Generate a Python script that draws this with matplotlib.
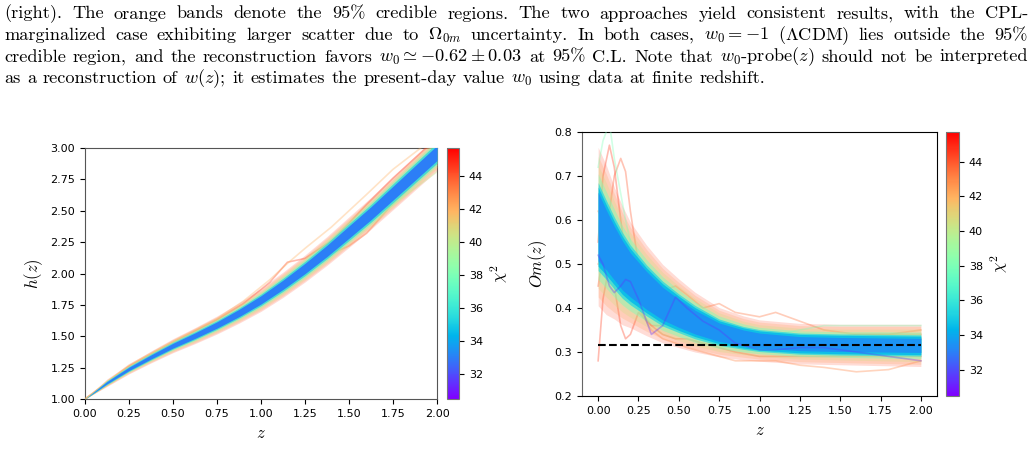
import numpy as np
import matplotlib
matplotlib.use("Agg")
import matplotlib.pyplot as plt
from matplotlib.colors import Normalize
from matplotlib.cm import ScalarMappable

plt.rcParams['mathtext.fontset'] = 'cm'
plt.rcParams['font.size'] = 8

# ---------------- data: h(z) panel ----------------
z_h = [0.0, 0.125, 0.25, 0.375, 0.5, 0.625, 0.75, 0.875, 1.0, 1.125, 1.25, 1.375,
       1.5, 1.625, 1.75, 1.875, 2.0]
h_center = [1.00, 1.13, 1.24, 1.335, 1.425, 1.505, 1.59, 1.685, 1.79, 1.91, 2.04, 2.18,
            2.33, 2.48, 2.64, 2.80, 2.96]
h_band_chi2 = [44.5, 42.5, 40.5, 38.0, 35.5, 33.0]
h_band_halfwidth = [
    [0, 0.030, 0.040, 0.048, 0.056, 0.064, 0.072, 0.081, 0.092, 0.101, 0.108, 0.115, 0.122, 0.127, 0.132, 0.136, 0.140],
    [0, 0.026, 0.035, 0.042, 0.050, 0.057, 0.064, 0.072, 0.082, 0.090, 0.097, 0.104, 0.110, 0.115, 0.120, 0.124, 0.128],
    [0, 0.022, 0.030, 0.037, 0.043, 0.049, 0.055, 0.062, 0.071, 0.078, 0.085, 0.092, 0.098, 0.103, 0.108, 0.112, 0.116],
    [0, 0.018, 0.025, 0.030, 0.035, 0.040, 0.045, 0.051, 0.059, 0.066, 0.072, 0.077, 0.083, 0.088, 0.092, 0.096, 0.099],
    [0, 0.014, 0.019, 0.023, 0.027, 0.031, 0.035, 0.040, 0.046, 0.052, 0.057, 0.062, 0.067, 0.071, 0.075, 0.078, 0.081],
    [0, 0.009, 0.013, 0.016, 0.019, 0.022, 0.025, 0.029, 0.033, 0.037, 0.041, 0.045, 0.049, 0.052, 0.055, 0.058, 0.060],
]
# individual outlying samples (z, h, chi2)
h_out_z = [0.0, 0.25, 0.5, 0.75, 0.9, 1.05, 1.15, 1.25, 1.4, 1.5, 1.6, 1.75, 2.0]
h_out_curves = [
    [1.00, 1.26, 1.45, 1.63, 1.76, 1.93, 2.09, 2.12, 2.26, 2.40, 2.55, 2.76, 3.08],
    [1.00, 1.22, 1.40, 1.56, 1.68, 1.84, 1.96, 2.05, 2.16, 2.22, 2.32, 2.56, 2.88],
    [1.00, 1.23, 1.41, 1.56, 1.69, 1.85, 1.97, 2.06, 2.20, 2.30, 2.40, 2.55, 2.81],
    [1.00, 1.27, 1.46, 1.64, 1.78, 1.95, 2.08, 2.20, 2.37, 2.50, 2.63, 2.83, 3.10],
]
h_out_chi2 = [44.5, 43.5, 40.0, 42.0]

# ---------------- data: Om(z) panel ----------------
z_om = [0.0, 0.05, 0.1, 0.15, 0.2, 0.3, 0.4, 0.5, 0.6, 0.75, 0.9, 1.0, 1.25, 1.5, 1.75, 2.0]
om_center = [0.585, 0.555, 0.525, 0.497, 0.475, 0.440, 0.410, 0.388, 0.368, 0.345,
             0.332, 0.326, 0.319, 0.317, 0.316, 0.315]
om_band_chi2 = [44.5, 42.5, 40.5, 38.0, 35.5, 34.5, 33.5]
om_band_halfwidth = [
    [0.180, 0.170, 0.150, 0.135, 0.120, 0.103, 0.089, 0.078, 0.068, 0.056, 0.050, 0.047, 0.046, 0.046, 0.047, 0.048],
    [0.160, 0.150, 0.135, 0.120, 0.108, 0.093, 0.080, 0.070, 0.061, 0.050, 0.044, 0.042, 0.041, 0.041, 0.042, 0.043],
    [0.140, 0.130, 0.118, 0.106, 0.096, 0.082, 0.071, 0.062, 0.054, 0.044, 0.038, 0.036, 0.035, 0.035, 0.036, 0.037],
    [0.120, 0.110, 0.100, 0.090, 0.082, 0.070, 0.061, 0.053, 0.046, 0.037, 0.032, 0.030, 0.029, 0.029, 0.030, 0.030],
    [0.100, 0.090, 0.082, 0.075, 0.068, 0.058, 0.051, 0.044, 0.038, 0.030, 0.026, 0.025, 0.024, 0.024, 0.024, 0.024],
    [0.090, 0.080, 0.072, 0.066, 0.060, 0.051, 0.045, 0.039, 0.033, 0.026, 0.023, 0.022, 0.021, 0.021, 0.021, 0.021],
    [0.078, 0.068, 0.061, 0.056, 0.050, 0.043, 0.037, 0.032, 0.027, 0.021, 0.018, 0.017, 0.016, 0.016, 0.016, 0.016],
]
om_out_z = [0.0, 0.03, 0.07, 0.1, 0.14, 0.17, 0.2, 0.25, 0.33, 0.4, 0.48, 0.55, 0.65, 0.75,
            0.85, 1.0, 1.1, 1.25, 1.4, 1.6, 1.8, 2.0]
om_out_curves = [
    [0.55, 0.70, 0.77, 0.72, 0.60, 0.52, 0.46, 0.40, 0.36, 0.36, 0.38, 0.37, 0.36, 0.34, 0.33, 0.32, 0.32, 0.32, 0.32, 0.32, 0.33, 0.33],
    [0.45, 0.52, 0.62, 0.70, 0.74, 0.71, 0.62, 0.50, 0.42, 0.40, 0.38, 0.36, 0.35, 0.34, 0.33, 0.33, 0.33, 0.33, 0.33, 0.34, 0.34, 0.34],
    [0.28, 0.42, 0.50, 0.45, 0.36, 0.33, 0.34, 0.39, 0.36, 0.34, 0.33, 0.33, 0.32, 0.31, 0.30, 0.29, 0.29, 0.29, 0.29, 0.29, 0.29, 0.29],
    [0.50, 0.52, 0.55, 0.52, 0.48, 0.46, 0.44, 0.43, 0.42, 0.44, 0.45, 0.43, 0.40, 0.41, 0.39, 0.38, 0.39, 0.37, 0.35, 0.34, 0.34, 0.35],
    [0.62, 0.60, 0.57, 0.54, 0.50, 0.47, 0.44, 0.40, 0.35, 0.33, 0.32, 0.31, 0.30, 0.29, 0.28, 0.28, 0.28, 0.27, 0.265, 0.255, 0.26, 0.28],
    [0.72, 0.78, 0.82, 0.74, 0.66, 0.60, 0.55, 0.50, 0.43, 0.40, 0.37, 0.35, 0.34, 0.33, 0.33, 0.33, 0.34, 0.35, 0.36, 0.36, 0.36, 0.36],
    [0.52, 0.50, 0.45, 0.435, 0.45, 0.465, 0.46, 0.42, 0.34, 0.36, 0.425, 0.40, 0.37, 0.35, 0.32, 0.305, 0.305, 0.31, 0.31, 0.30, 0.29, 0.28],
]
om_out_chi2 = [44.5, 44.0, 44.5, 43.5, 43.0, 38.0, 31.5]
om_lcdm = 0.315

chi2_min, chi2_max = 30.5, 45.7
cbar_ticks = [32, 34, 36, 38, 40, 42, 44]

paragraph = [
    r"(right).  The orange bands denote the 95% credible regions.  The two approaches yield consistent results, with the CPL-",
    r"marginalized case exhibiting larger scatter due to $\Omega_{0m}$ uncertainty. In both cases, $w_0={-1}$ ($\Lambda$CDM) lies outside the 95%",
    r"credible region, and the reconstruction favors $w_0\simeq{-0.62}\pm0.03$ at 95% C.L. Note that $w_0$-probe$(z)$ should not be interpreted",
    r"as a reconstruction of $w(z)$; it estimates the present-day value $w_0$ using data at finite redshift.",
]

# ---------------- figure ----------------
W, H = 1035, 468
fig = plt.figure(figsize=(W / 100, H / 100), dpi=100)
cmap = plt.get_cmap('rainbow')
norm = Normalize(chi2_min, chi2_max)


def draw_panel(ax, z, center, band_chi2, band_hw, out_z, out_curves, out_chi2, alphas):
    c = np.array(center)
    for k, (chi, hw) in enumerate(zip(band_chi2, band_hw)):
        hw = np.array(hw)
        ax.fill_between(z, c - hw, c + hw, color=cmap(norm(chi)), alpha=alphas[k],
                        lw=0, zorder=100 - chi)
    for vals, chi in zip(out_curves, out_chi2):
        ax.plot(out_z, vals, color=cmap(norm(chi)), alpha=0.35, lw=1.2, zorder=100 - chi - 0.5)


def px_rect(x0, y0, x1, y1):
    return [x0 / W, 1 - y1 / H, (x1 - x0) / W, (y1 - y0) / H]


# left panel
ax1 = fig.add_axes(px_rect(85, 148, 437, 399))
draw_panel(ax1, z_h, h_center, h_band_chi2, h_band_halfwidth, h_out_z, h_out_curves,
           h_out_chi2, [0.18, 0.22, 0.3, 0.45, 0.8, 1.0])
ax1.set_xlim(0, 2)
ax1.set_ylim(1, 3)
ax1.set_xticks(np.arange(0, 2.01, 0.25))
ax1.set_yticks(np.arange(1, 3.01, 0.25))
ax1.xaxis.set_major_formatter(matplotlib.ticker.FormatStrFormatter('%.2f'))
ax1.yaxis.set_major_formatter(matplotlib.ticker.FormatStrFormatter('%.2f'))
ax1.set_xlabel(r'$z$', fontsize=12)
ax1.set_ylabel(r'$h(z)$', fontsize=12)
for s in ax1.spines.values():
    s.set_color('#555555')
cax1 = fig.add_axes(px_rect(447, 148, 459, 399))
cb1 = fig.colorbar(ScalarMappable(norm=norm, cmap=cmap), cax=cax1, ticks=cbar_ticks)
cb1.set_label(r'$\chi^2$', fontsize=12)
cb1.outline.set_edgecolor('#777777')

# right panel
ax2 = fig.add_axes(px_rect(582, 132, 937, 396))
draw_panel(ax2, z_om, om_center, om_band_chi2, om_band_halfwidth, om_out_z, om_out_curves,
           om_out_chi2, [0.18, 0.22, 0.3, 0.45, 0.75, 0.9, 1.0])
ax2.plot([z_om[0], z_om[-1]], [om_lcdm, om_lcdm], color='black', ls='--', lw=1.5, zorder=200)
ax2.set_xlim(-0.1, 2.1)
ax2.set_ylim(0.2, 0.8)
ax2.set_xticks(np.arange(0, 2.01, 0.25))
ax2.xaxis.set_major_formatter(matplotlib.ticker.FormatStrFormatter('%.2f'))
ax2.set_xlabel(r'$z$', fontsize=12)
ax2.set_ylabel(r'$Om(z)$', fontsize=12)
ax2.spines['left'].set_color('#666666')
cax2 = fig.add_axes(px_rect(946, 132, 959, 396))
cb2 = fig.colorbar(ScalarMappable(norm=norm, cmap=cmap), cax=cax2, ticks=cbar_ticks)
cb2.set_label(r'$\chi^2$', fontsize=12)
cb2.outline.set_edgecolor('#777777')

# ---------------- justified paragraph text ----------------
fig.canvas.draw()
renderer = fig.canvas.get_renderer()
baselines = [18.5, 40.0, 61.5, 83.0]
x_left, x_right = 4, 1028
fs = 13.2
fam = ['cmr10', 'DejaVu Serif']
for i, (line, yb) in enumerate(zip(paragraph, baselines)):
    toks = [t for t in line.split(' ') if t != '']
    objs = [fig.text(0, 1 - yb / H, t, fontsize=fs, family=fam, va='baseline', ha='left')
            for t in toks]
    widths = [o.get_window_extent(renderer).width for o in objs]
    if i < len(paragraph) - 1:
        gap = (x_right - x_left - sum(widths)) / (len(toks) - 1)
    else:
        gap = 6.4
    x = x_left
    for o, w in zip(objs, widths):
        o.set_x(x / W)
        x += w + gap

fig.savefig('out.png', dpi=100)
